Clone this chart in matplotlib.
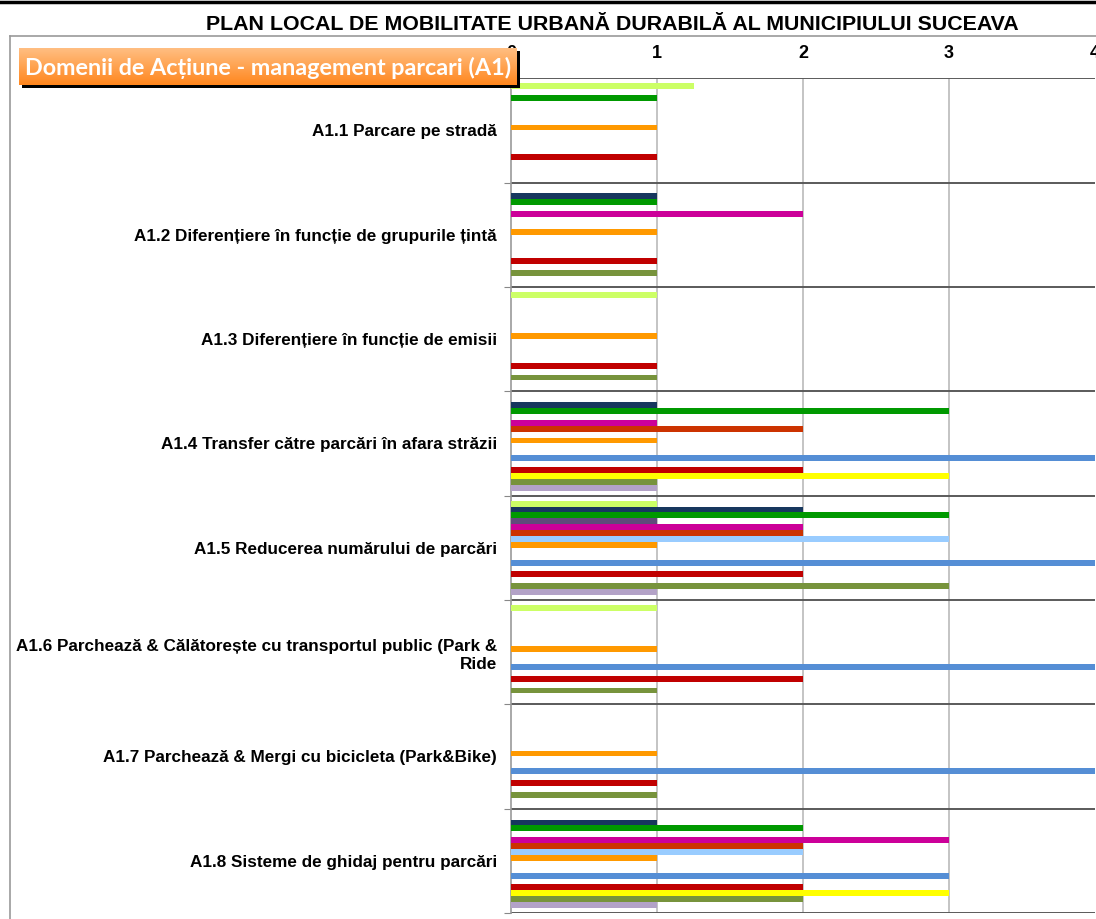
import numpy as np
import matplotlib
matplotlib.use("Agg")
import matplotlib.pyplot as plt
from matplotlib import font_manager
from matplotlib.lines import Line2D
from matplotlib.patches import Rectangle

categories = [
    "A1.1 Parcare pe stradă",
    "A1.2 Diferențiere în funcție de grupurile țintă",
    "A1.3 Diferențiere în funcție de emisii",
    "A1.4 Transfer către parcări în afara străzii",
    "A1.5 Reducerea numărului de parcări",
    "A1.6 Parchează & Călătorește cu transportul public (Park &\nRide",
    "A1.7 Parchează & Mergi cu bicicleta (Park&Bike)",
    "A1.8 Sisteme de ghidaj pentru parcări",
]

# one list per series, values for A1.1 ... A1.8 (0 = no bar)
s01 = [1.25, 0, 1, 0, 1, 1, 0, 0]
s02 = [0, 1, 0, 1, 2, 0, 0, 1]
s03 = [1, 1, 0, 3, 3, 0, 0, 2]
s04 = [0, 0, 0, 0, 1, 0, 0, 0]
s05 = [0, 2, 0, 1, 2, 0, 0, 3]
s06 = [0, 0, 0, 2, 2, 0, 0, 2]
s07 = [0, 0, 0, 0, 3, 0, 0, 2]
s08 = [1, 1, 1, 1, 1, 1, 1, 1]
s09 = [0, 0, 0, 0, 0, 0, 0, 0]
s10 = [0, 0, 0, 0, 0, 0, 0, 0]
s11 = [0, 0, 0, 4, 4, 4, 4, 3]
s12 = [0, 0, 0, 0, 0, 0, 0, 0]
s13 = [1, 1, 1, 2, 2, 2, 1, 2]
s14 = [0, 0, 0, 3, 0, 0, 0, 3]
s15 = [0, 1, 1, 1, 3, 1, 1, 2]
s16 = [0, 0, 0, 1, 1, 0, 0, 1]

series = [s01, s02, s03, s04, s05, s06, s07, s08,
          s09, s10, s11, s12, s13, s14, s15, s16]
colors = ["#CCFF66", "#17375E", "#009900", "#604A7B", "#CC0099", "#CC3300",
          "#99CCFF", "#FF9900", "#4BACC6", "#F79646", "#558ED5", "#8064A2",
          "#C00000", "#FFFF00", "#77933C", "#B3A2C7"]

title = "PLAN LOCAL DE MOBILITATE URBANĂ DURABILĂ AL MUNICIPIULUI SUCEAVA"
banner = "Domenii de Acțiune - management parcari (A1)"

installed = {f.name for f in font_manager.fontManager.ttflist}
narrow = "Liberation Sans Narrow" if "Liberation Sans Narrow" in installed else "Liberation Sans"

W, H = 1096, 919
fig = plt.figure(figsize=(W / 100, H / 100), dpi=100)


def fx(px):
    return px / W


def fy(py):
    return 1 - py / H


ax = fig.add_axes([fx(511), fy(913), fx(1095) - fx(511), fy(78.3) - fy(913)])

n_series = len(series)
bar_h = 1 / (n_series + 1.68)
centers = np.arange(len(categories)) + 0.5
for j, (vals, col) in enumerate(zip(series, colors)):
    offs = (j - (n_series - 1) / 2) * bar_h
    ax.barh(centers + offs, vals, height=bar_h, color=col, linewidth=0, zorder=3)

ax.set_xlim(0, 4)
ax.set_ylim(len(categories), 0)

# x axis on top
ax.xaxis.tick_top()
ax.set_xticks([0, 1, 2, 3, 4])
ax.tick_params(axis="x", length=0, pad=12)
for lab in ax.get_xticklabels():
    lab.set_fontfamily(narrow)
    lab.set_fontweight("bold")
    lab.set_fontsize(13)

# category separators as major ticks, labels on minor ticks
ax.set_yticks(np.arange(len(categories) + 1))
ax.set_yticklabels([])
ax.set_yticks(centers, minor=True)
ax.set_yticklabels(categories, minor=True, fontfamily=narrow,
                   fontweight="bold", fontsize=12.3, linespacing=1.3)
ax.tick_params(axis="y", which="major", length=5, direction="out", color="#888888")
ax.tick_params(axis="y", which="minor", length=0, pad=10)

for yb in range(len(categories) + 1):
    ax.axhline(yb, color="#5a5a5a", lw=1.4, zorder=2)
for xv in [1, 2, 3]:
    ax.axvline(xv, color="#C4C4C4", lw=1.4, zorder=1)

for side in ["top", "right", "bottom"]:
    ax.spines[side].set_visible(False)
ax.spines["left"].set_color("#999999")
ax.spines["left"].set_linewidth(1.2)

fig.text(fx(612), fy(24), title, ha="center", va="center",
         fontfamily=narrow, fontweight="bold", fontsize=15.4)

# chart area frame and page rule
fig.add_artist(Line2D([fx(10), fx(10)], [fy(36), 0], color="#9a9a9a", lw=1.2))
fig.add_artist(Line2D([fx(10), 1], [fy(36), fy(36)], color="#9a9a9a", lw=1.2))
fig.add_artist(Line2D([0, 1], [fy(2), fy(2)], color="black", lw=2.5))

# orange banner with drop shadow
fig.add_artist(Rectangle((fx(22), fy(88)), fx(517) - fx(19), fy(48) - fy(85),
                         facecolor="black", edgecolor="none", zorder=5))
bax = fig.add_axes([fx(19), fy(85), fx(517) - fx(19), fy(48) - fy(85)], zorder=6)
grad = np.linspace(0, 1, 64).reshape(-1, 1)
top_c = np.array([255, 190, 130]) / 255
bot_c = np.array([255, 135, 30]) / 255
img = top_c + (bot_c - top_c) * grad[:, :, None]
bax.imshow(img, aspect="auto", extent=[0, 1, 0, 1], origin="upper")
bax.set_axis_off()
bax.text(0.5, 0.47, banner, ha="center", va="center", color="white",
         fontfamily=["Lato", "DejaVu Sans"], fontweight="bold", fontsize=16.8)

fig.savefig("out.png", dpi=100)
